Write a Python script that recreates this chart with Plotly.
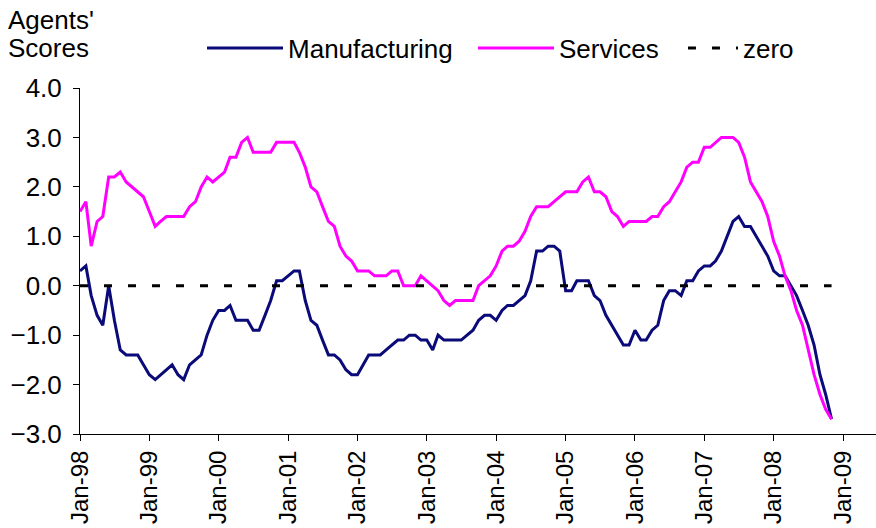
import pandas as pd
import plotly.graph_objects as go

dates = pd.date_range("1998-01-01", periods=131, freq="MS")

manufacturing = [
    0.3, 0.4, -0.2, -0.6, -0.8, 0.0, -0.7, -1.3, -1.4, -1.4, -1.4, -1.6,
    -1.8, -1.9, -1.8, -1.7, -1.6, -1.8, -1.9, -1.6, -1.5, -1.4, -1.0, -0.7,
    -0.5, -0.5, -0.4, -0.7, -0.7, -0.7, -0.9, -0.9, -0.6, -0.3, 0.1, 0.1,
    0.2, 0.3, 0.3, -0.3, -0.7, -0.8, -1.1, -1.4, -1.4, -1.5, -1.7, -1.8,
    -1.8, -1.6, -1.4, -1.4, -1.4, -1.3, -1.2, -1.1, -1.1, -1.0, -1.0, -1.1,
    -1.1, -1.3, -1.0, -1.1, -1.1, -1.1, -1.1, -1.0, -0.9, -0.7, -0.6, -0.6,
    -0.7, -0.5, -0.4, -0.4, -0.3, -0.2, 0.1, 0.7, 0.7, 0.8, 0.8, 0.7,
    -0.1, -0.1, 0.1, 0.1, 0.1, -0.2, -0.3, -0.6, -0.8, -1.0, -1.2, -1.2,
    -0.9, -1.1, -1.1, -0.9, -0.8, -0.3, -0.1, -0.1, -0.2, 0.1, 0.1, 0.3,
    0.4, 0.4, 0.5, 0.7, 1.0, 1.3, 1.4, 1.2, 1.2, 1.0, 0.8, 0.6,
    0.3, 0.2, 0.2, 0.0, -0.2, -0.5, -0.8, -1.2, -1.8, -2.2, -2.7,
]

services = [
    1.5, 1.7, 0.8, 1.3, 1.4, 2.2, 2.2, 2.3, 2.1, 2.0, 1.9, 1.8,
    1.5, 1.2, 1.3, 1.4, 1.4, 1.4, 1.4, 1.6, 1.7, 2.0, 2.2, 2.1,
    2.2, 2.3, 2.6, 2.6, 2.9, 3.0, 2.7, 2.7, 2.7, 2.7, 2.9, 2.9,
    2.9, 2.9, 2.7, 2.4, 2.0, 1.9, 1.6, 1.3, 1.2, 0.8, 0.6, 0.5,
    0.3, 0.3, 0.3, 0.2, 0.2, 0.2, 0.3, 0.3, 0.0, 0.0, 0.0, 0.2,
    0.1, 0.0, -0.1, -0.3, -0.4, -0.3, -0.3, -0.3, -0.3, 0.0, 0.1, 0.2,
    0.4, 0.7, 0.8, 0.8, 0.9, 1.1, 1.4, 1.6, 1.6, 1.6, 1.7, 1.8,
    1.9, 1.9, 1.9, 2.1, 2.2, 1.9, 1.9, 1.8, 1.5, 1.4, 1.2, 1.3,
    1.3, 1.3, 1.3, 1.4, 1.4, 1.6, 1.7, 1.9, 2.1, 2.4, 2.5, 2.5,
    2.8, 2.8, 2.9, 3.0, 3.0, 3.0, 2.9, 2.6, 2.1, 1.9, 1.7, 1.4,
    0.9, 0.6, 0.2, -0.1, -0.5, -0.8, -1.3, -1.8, -2.2, -2.5, -2.7,
]

zero = [0.0] * len(dates)

y_ticks = [-3.0, -2.0, -1.0, 0.0, 1.0, 2.0, 3.0, 4.0]
x_ticks = pd.date_range("1998-01-01", "2009-01-01", freq="YS")

FONT = "Liberation Sans, Arial, sans-serif"
FS = 26

fig = go.Figure()
fig.add_trace(go.Scatter(x=dates, y=manufacturing, mode="lines", name="Manufacturing",
                         line=dict(color="#0A0A78", width=3), legend="legend"))
fig.add_trace(go.Scatter(x=dates, y=services, mode="lines", name="Services",
                         line=dict(color="#FF00FF", width=3), legend="legend2"))
fig.add_trace(go.Scatter(x=dates, y=zero, mode="lines", name="zero",
                         line=dict(color="black", width=3, dash="8px,16px"), legend="legend3"))

leg_common = dict(orientation="h", xanchor="left", y=1.115, yanchor="middle",
                  font=dict(size=FS), bgcolor="rgba(0,0,0,0)", borderwidth=0)

fig.update_layout(
    width=876, height=528,
    margin=dict(l=80, r=0, t=88, b=94, autoexpand=False),
    paper_bgcolor="white", plot_bgcolor="white",
    font=dict(family=FONT, size=FS, color="black"),
    showlegend=True,
    legend=dict(x=0.1533, itemwidth=76, **leg_common),
    legend2=dict(x=0.4937, itemwidth=76, **leg_common),
    legend3=dict(x=0.7575, itemwidth=50, **leg_common),
    xaxis=dict(type="date", range=["1998-01-01", "2009-06-23"],
               tickvals=x_ticks, tickformat="%b-%y", tickangle=-90,
               showgrid=False, zeroline=False, showline=True, linecolor="black",
               linewidth=1, ticks="outside", ticklen=6, tickcolor="black",
               tickfont=dict(size=24), automargin=False),
    yaxis=dict(range=[-3, 4], tickvals=y_ticks, tickformat=".1f",
               showgrid=False, zeroline=False, showline=True, linecolor="black",
               linewidth=1, ticks="outside", ticklen=6, tickcolor="black",
               tickfont=dict(size=FS), ticklabelstandoff=6, automargin=False),
    annotations=[
        dict(text="Agents'", xref="paper", yref="paper", x=-0.093, y=1.1965,
             xanchor="left", yanchor="middle", showarrow=False, font=dict(size=FS)),
        dict(text="Scores", xref="paper", yref="paper", x=-0.093, y=1.1156,
             xanchor="left", yanchor="middle", showarrow=False, font=dict(size=FS)),
    ],
)

fig.write_html("out.html", config={"displayModeBar": False},
               post_script="document.body.style.margin='0';document.body.style.overflow='hidden';")
